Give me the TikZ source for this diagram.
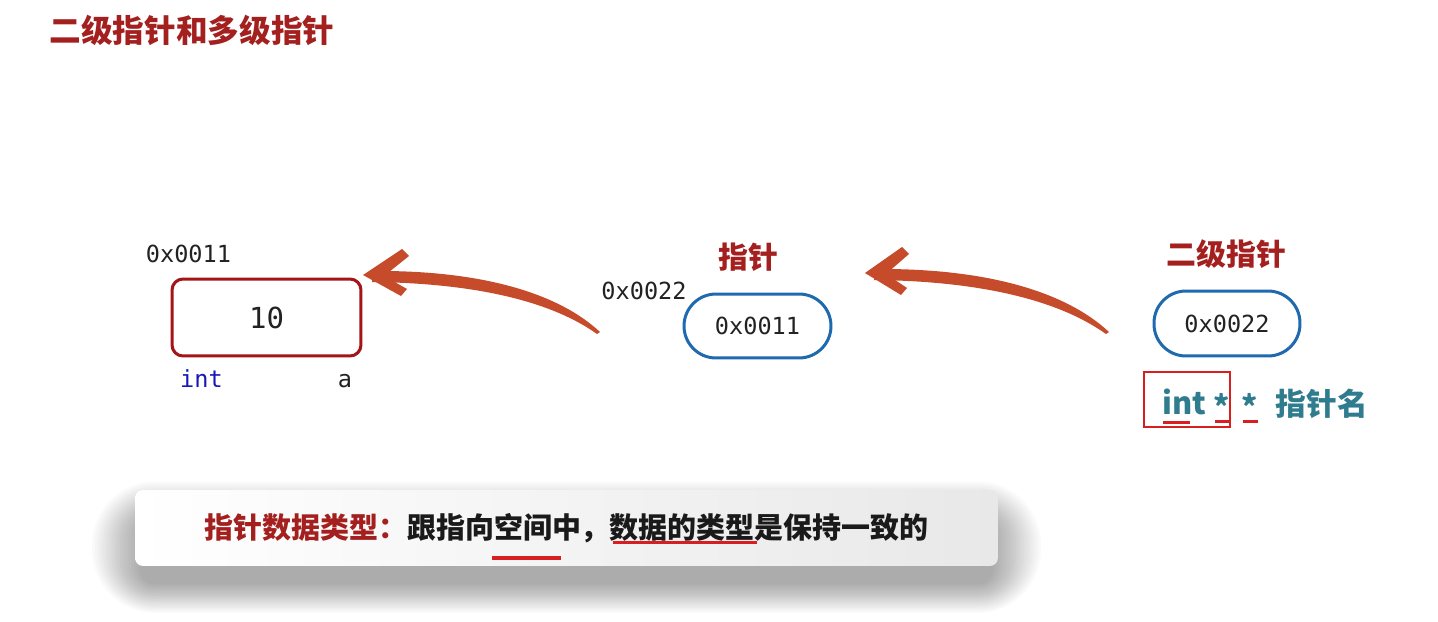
\documentclass[tikz,border=0pt]{standalone}
\usepackage{fontspec}
\newfontfamily\cjk{Noto Sans CJK SC}
\newfontfamily\mono{DejaVu Sans Mono}
\definecolor{titlered}{HTML}{A3201F}
\definecolor{boxred}{HTML}{A31517}
\definecolor{ptrblue}{HTML}{1F69AE}
\definecolor{arrowc}{HTML}{C64B2B}
\definecolor{tealc}{HTML}{2F7C8E}
\definecolor{markred}{HTML}{D81E1E}
\definecolor{kwblue}{HTML}{1818B8}
\definecolor{monogray}{HTML}{222222}
\definecolor{inkblack}{HTML}{1A1A1A}
\tikzset{
  heading/.style={font=\cjk\bfseries\fontsize{17}{20}\selectfont, text=titlered, inner sep=0pt},
  addr/.style={font=\mono\fontsize{13.4}{16}\selectfont, text=monogray, inner sep=0pt},
  valbox/.style={draw=boxred, line width=0.06cm, rounded corners=0.22cm, minimum width=3.78cm, minimum height=1.54cm, font=\mono\fontsize{16.5}{20}\selectfont, text=monogray},
  ptrbox/.style={draw=ptrblue, line width=0.06cm, rounded corners=0.64cm, minimum width=2.94cm, minimum height=1.28cm, font=\mono\fontsize{13.4}{16}\selectfont, text=monogray},
  brush/.style={fill=arrowc, draw=none},
  tealtxt/.style={font=\cjk\bfseries\fontsize{17.5}{20}\selectfont, text=tealc, inner sep=0pt},
  redline/.style={draw=markred, line width=0.06cm},
  banner/.style={rounded corners=0.16cm, minimum width=17.26cm, minimum height=1.52cm, left color=white, right color=black!9,
    font=\cjk\bfseries\fontsize{16.5}{20}\selectfont, text=inkblack},
  softshadow/.style={fill=black, fill opacity=0.019, draw=none},
}
\begin{document}
\begin{tikzpicture}[x=0.02cm, y=-0.02cm]
\useasboundingbox[fill=white] (0,0) rectangle (1438,622);

% title
\node[heading, font=\cjk\bfseries\fontsize{18}{20}\selectfont] (title) at (192,30) {二级指针和多级指针};

% variable a
\node[addr] (addrA) at (188.5,254) {0x0011};
\node[valbox] (boxA) at (266.5,317.5) {10};
\node[addr, text=kwblue, anchor=base] (typeA) at (201.5,387) {int};
\node[addr, anchor=base] (nameA) at (345,387) {a};

% pointer
\node[heading] (lblP) at (748.5,257) {指针};
\node[addr] (addrP) at (644,291) {0x0022};
\node[ptrbox] (boxP) at (757.5,326) {0x0011};

% double pointer
\node[heading] (lblPP) at (1226.5,254) {二级指针};
\node[ptrbox, minimum width=2.92cm, minimum height=1.30cm] (boxPP) at (1227,323.5) {0x0022};

% brush arrow: pointer -> a
\fill[brush] (372,271) .. controls (476,270) and (556,291) .. (600,332) -- (597,334) .. controls (548,299) and (468,283) .. (372,282) -- cycle;
\fill[brush] (363,275) -- (402,249) -- (409,256) -- (384,276) -- (407,289) -- (401,296) -- cycle;

% brush arrow: double pointer -> pointer
\fill[brush] (874,269) .. controls (985,268) and (1065,291) .. (1109,332) -- (1106,334) .. controls (1057,299) and (977,281) .. (874,280) -- cycle;
\fill[brush] (865,273) -- (902,247) -- (909,254) -- (886,274) -- (907,288) -- (901,295) -- cycle;

% declaration
\node[draw=markred, line width=0.04cm, minimum width=1.72cm, minimum height=1.10cm, inner sep=0pt] (typebox) at (1187,399.5) {};
\node[tealtxt] (kwint) at (1184.5,402) {int};
\node[tealtxt] (star1) at (1222,406) {*};
\node[tealtxt] (star2) at (1250,406) {*};
\node[tealtxt] (pname) at (1322,404) {指针名};
\draw[redline] (1163,422) -- (1190,422);
\draw[redline] (1215,421) -- (1230,421);
\draw[redline] (1243,421) -- (1258,421);

% soft shadow under the banner
\foreach \i in {0,...,17}{
  \pgfmathsetmacro{\ex}{48-2.8*\i}
  \fill[softshadow, rounded corners={(0.3cm+\ex*0.02cm)}]
    ({140-\ex},{520-\ex*0.8}) rectangle ({993+\ex},{584+\ex*0.6});
}

% note banner
\node[banner] (note) at (566.5,528) {\textcolor{titlered}{指针数据类型：}跟指向空间中，数据的类型是保持一致的};
\draw[redline] (613,542) -- (757,542);
\draw[redline, line width=0.08cm] (492,558) -- (561,558);
\end{tikzpicture}
\end{document}
